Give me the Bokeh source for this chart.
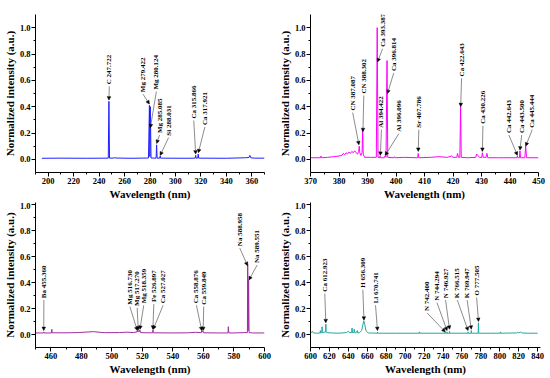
import math
from bokeh.plotting import figure
from bokeh.layouts import column, row
from bokeh.models import (ColumnDataSource, LabelSet, Arrow, NormalHead, Range1d,
                          FixedTicker, PrintfTickFormatter)
from bokeh.embed import file_html
from bokeh.resources import INLINE

FONT = "Liberation Serif"
XLABEL = "Wavelength (nm)"
YLABEL = "Normalized intensity (a.u.)"

# ---------------- Panel 1 (blue, 190-370 nm) ----------------
wl1 = [195, 210, 230, 247.2, 247.7, 248.2, 252, 252.3, 252.6, 265, 278.8, 279.55, 279.9,
       280.27, 280.8, 284.8, 285.2, 285.6, 287.7, 288.0, 288.3, 309, 315.5, 315.9, 316.3,
       317.5, 317.9, 318.3, 340, 355, 357.8, 358.5, 359.2, 362, 370]
int1 = [0.008, 0.009, 0.008, 0.009, 0.44, 0.009, 0.01, 0.014, 0.01, 0.008, 0.01, 0.41, 0.02,
        0.40, 0.01, 0.009, 0.11, 0.009, 0.009, 0.025, 0.009, 0.008, 0.009, 0.03, 0.009,
        0.009, 0.04, 0.009, 0.008, 0.012, 0.014, 0.03, 0.012, 0.009, 0.009]
lab1 = ["C 247.722", "Mg 279.422", "Mg 280.124", "Mg 285.085", "Si 288.031",
        "Ca 315.866", "Ca 317.921"]
lx1 = [248.0, 274.5, 285.0, 287.5, 294.6, 314.4, 323.1]
ly1 = [0.57, 0.51, 0.53, 0.20, 0.18, 0.31, 0.26]
tx1 = [247.7, 279.5, 280.3, 285.2, 288.0, 315.9, 318.0]
ty1 = [0.45, 0.42, 0.24, 0.12, 0.03, 0.04, 0.05]

# ---------------- Panel 2 (magenta, 370-450 nm) ----------------
wl2 = [370, 373.5, 373.7, 373.9, 376, 378, 380, 381, 381.5, 382, 382.5, 383, 383.5, 384,
       384.5, 385, 385.5, 386, 386.5, 386.9, 387.1, 387.3, 387.7, 388.1, 388.3, 388.5, 389,
       391, 393.1, 393.4, 393.7, 394.2, 394.4, 394.6, 395.9, 396.1, 396.5, 396.85, 397.1,
       399.3, 399.5, 399.7, 403, 407.6, 407.8, 408, 412, 415, 418, 419.5, 420, 421.3, 421.6,
       421.9, 422.4, 422.67, 422.9, 425, 428, 428.3, 428.9, 429.3, 430.1, 430.3, 430.6,
       431.6, 431.9, 432.2, 436, 442.4, 442.6, 442.8, 443.3, 443.5, 443.7, 445.2, 445.5,
       445.8, 450]
int2 = [0.012, 0.012, 0.025, 0.012, 0.015, 0.02, 0.025, 0.03, 0.045, 0.035, 0.05, 0.04,
        0.055, 0.045, 0.06, 0.05, 0.065, 0.05, 0.04, 0.06, 0.10, 0.05, 0.03, 0.05, 0.22,
        0.04, 0.015, 0.015, 0.015, 1.0, 0.015, 0.012, 0.025, 0.012, 0.012, 0.025, 0.015,
        0.75, 0.015, 0.012, 0.02, 0.012, 0.015, 0.012, 0.045, 0.012, 0.015, 0.02, 0.015,
        0.025, 0.015, 0.015, 0.045, 0.015, 0.015, 0.40, 0.015, 0.012, 0.015, 0.04, 0.025,
        0.015, 0.015, 0.05, 0.015, 0.015, 0.045, 0.012, 0.012, 0.012, 0.025, 0.012, 0.012,
        0.065, 0.012, 0.012, 0.10, 0.012, 0.012]
lab2 = ["CN 387.087", "CN 388.302", "Ca 393.387", "Ca 396.814", "Al 394.422", "Al 396.096",
        "Sr 407.786", "Ca 422.643", "Ca  430.226", "Ca  442.643", "Ca  443.500", "Ca  445.444"]
lx2 = [384.8, 388.7, 395.3, 399.2, 394.9, 401.0, 408.0, 423.0, 430.5, 439.6, 444.1, 447.8]
ly2 = [0.37, 0.50, 0.855, 0.67, 0.24, 0.21, 0.24, 0.63, 0.27, 0.20, 0.20, 0.24]
tx2 = [387.0, 388.4, 393.5, 397.0, 394.5, 396.2, 407.8, 422.7, 430.3, 442.6, 443.5, 445.5]
ty2 = [0.11, 0.21, 0.74, 0.50, 0.03, 0.03, 0.06, 0.40, 0.06, 0.03, 0.07, 0.10]

# ---------------- Panel 3 (purple, 450-600 nm) ----------------
wl3 = [450, 455.2, 455.4, 455.6, 460.5, 460.7, 460.9, 470, 478, 488, 495, 505, 510, 514,
       516.5, 516.7, 517.0, 517.3, 517.8, 518.4, 518.8, 523, 526.7, 526.95, 527.2, 540, 550,
       555, 558.6, 558.9, 559.4, 559.8, 560.2, 570, 576.1, 576.3, 576.5, 576.7, 580, 588.8,
       588.99, 589.3, 589.59, 589.9, 592, 600]
int3 = [0.012, 0.012, 0.02, 0.012, 0.012, 0.04, 0.013, 0.013, 0.015, 0.022, 0.014, 0.015,
        0.018, 0.015, 0.02, 0.03, 0.02, 0.03, 0.02, 0.035, 0.015, 0.013, 0.013, 0.035, 0.013,
        0.012, 0.013, 0.017, 0.014, 0.03, 0.018, 0.025, 0.013, 0.012, 0.012, 0.06, 0.03,
        0.012, 0.012, 0.015, 0.54, 0.03, 0.42, 0.015, 0.012, 0.012]
lab3 = ["Ba 455.360", "Mg 516.730", "Mg 517.270", "Mg 518.359", "Fe 526.897", "Ca  527.027",
        "Ca  558.876", "Ca  559.849", "Na  588.958", "Na  589.551"]
lx3 = [455.5, 511.8, 516.6, 520.9, 527.5, 533.6, 555.4, 560.2, 583.8, 595.2]
ly3 = [0.28, 0.23, 0.22, 0.24, 0.25, 0.24, 0.24, 0.23, 0.68, 0.55]
tx3 = [455.4, 516.7, 517.3, 518.4, 526.9, 527.1, 558.9, 559.8, 588.9, 589.8]
ty3 = [0.03, 0.03, 0.035, 0.04, 0.04, 0.04, 0.03, 0.03, 0.53, 0.42]

# ---------------- Panel 4 (teal, 600-843 nm) ----------------
wl4 = [600, 602, 603, 608, 610.2, 610.4, 610.6, 612, 612.2, 612.5, 616, 616.2, 616.5, 617,
       622, 630, 638, 640, 641, 643.5, 643.9, 644.3, 645.8, 646.2, 646.6, 648, 649.5, 649.8,
       652, 654, 655.5, 656.3, 657.3, 658.5, 661, 670.6, 670.8, 671, 690, 714.8, 715, 715.3,
       742.2, 742.4, 742.6, 744.1, 744.3, 744.5, 746.7, 746.9, 747.1, 766.3, 766.5, 766.7,
       769.7, 769.9, 770.1, 777.2, 777.4, 777.7, 790, 800.5, 800.8, 801.1, 818, 819, 820,
       822, 823, 830, 840]
int4 = [0.01, 0.025, 0.012, 0.01, 0.012, 0.03, 0.012, 0.015, 0.06, 0.015, 0.02, 0.08, 0.02,
        0.015, 0.012, 0.01, 0.015, 0.025, 0.015, 0.015, 0.05, 0.015, 0.015, 0.04, 0.015,
        0.012, 0.03, 0.012, 0.015, 0.03, 0.08, 0.105, 0.08, 0.03, 0.012, 0.01, 0.018, 0.01,
        0.01, 0.01, 0.02, 0.01, 0.01, 0.018, 0.01, 0.01, 0.02, 0.01, 0.01, 0.025, 0.01, 0.01,
        0.02, 0.01, 0.01, 0.03, 0.01, 0.01, 0.09, 0.01, 0.01, 0.01, 0.02, 0.01, 0.012, 0.018,
        0.012, 0.02, 0.012, 0.01, 0.01]
lab4 = ["Ca  612.923", "H  656.309", "Li  670.741", "N  742.400", "N  744.294", "N  746.927",
        "K  766.515", "K  769.947", "O  777.505"]
lx4 = [615.1, 655.3, 668.7, 723.3, 733.6, 742.7, 755.1, 765.5, 775.5]
ly4 = [0.33, 0.36, 0.24, 0.18, 0.26, 0.28, 0.28, 0.28, 0.30]
tx4 = [616.2, 656.5, 670.8, 742.4, 744.3, 746.9, 766.5, 769.9, 777.5]
ty4 = [0.09, 0.11, 0.03, 0.02, 0.03, 0.04, 0.03, 0.04, 0.10]

Y_TICKS = [0.0, 0.2, 0.4, 0.6, 0.8, 1.0]
Y_MINOR = [0.1, 0.3, 0.5, 0.7, 0.9]


def style_axis(ax):
    ax.axis_line_color = "black"
    ax.axis_line_width = 1
    ax.major_tick_line_color = "black"
    ax.minor_tick_line_color = "black"
    ax.major_tick_out = 4
    ax.major_tick_in = 0
    ax.minor_tick_out = 2
    ax.minor_tick_in = 0
    ax.major_label_standoff = 1
    ax.axis_label_standoff = 1
    ax.major_label_text_font = FONT
    ax.major_label_text_font_style = "bold"
    ax.major_label_text_font_size = "8.5px"
    ax.major_label_text_color = "black"
    ax.axis_label_text_font = FONT
    ax.axis_label_text_font_style = "bold"
    ax.axis_label_text_font_size = "11px"
    ax.axis_label_text_color = "black"


def panel(wl, inten, color, xr, yr, xticks, xminor, labs, lx, ly, tx, ty,
          width, height, mbl, mbr, mbt, mbb):
    p = figure(width=width, height=height, x_range=Range1d(*xr), y_range=Range1d(*yr),
               output_backend="svg", toolbar_location=None,
               min_border_left=mbl, min_border_right=mbr,
               min_border_top=mbt, min_border_bottom=mbb)
    p.outline_line_color = None
    p.grid.visible = False
    p.background_fill_color = "white"
    p.border_fill_color = "white"
    p.line(wl, inten, line_color=color, line_width=1)

    src = ColumnDataSource(dict(
        text=labs, x=lx, y=ly,
        x0=lx, y0=[v - 0.015 for v in ly], x1=tx, y1=ty))
    p.add_layout(Arrow(end=NormalHead(size=3.5, fill_color="black", line_color="black",
                                      line_width=0.5),
                       x_start="x0", y_start="y0", x_end="x1", y_end="y1",
                       source=src, line_color="#6f6f6f", line_width=0.8))
    p.add_layout(LabelSet(x="x", y="y", text="text", source=src, angle=math.pi / 2,
                          text_align="left", text_baseline="middle",
                          text_font=FONT, text_font_style="bold",
                          text_font_size="7px", text_color="black"))

    p.xaxis.ticker = FixedTicker(ticks=xticks, minor_ticks=xminor)
    p.yaxis.ticker = FixedTicker(ticks=Y_TICKS, minor_ticks=Y_MINOR)
    p.yaxis.formatter = PrintfTickFormatter(format="%.1f")
    p.xaxis.axis_label = XLABEL
    p.yaxis.axis_label = YLABEL
    style_axis(p.xaxis[0])
    style_axis(p.yaxis[0])
    return p


TOP_Y = (-0.1, 1.1)
BOT_Y = (-0.1, 1.016)

p1 = panel(wl1, int1, "#1f1fff", (190, 370), TOP_Y,
           list(range(200, 361, 20)), list(range(190, 371, 20)),
           lab1, lx1, ly1, tx1, ty1, 272, 202, 35, 8, 14, 30)
p2 = panel(wl2, int2, "#ff00ff", (370, 450), TOP_Y,
           list(range(370, 451, 10)), [375 + 10 * i for i in range(8)],
           lab2, lx2, ly2, tx2, ty2, 277, 202, 38, 11, 14, 30)
p3 = panel(wl3, int3, "#a02da0", (450, 600), BOT_Y,
           list(range(460, 601, 20)), list(range(450, 601, 20)),
           lab3, lx3, ly3, tx3, ty3, 272, 175, 35, 8, 0, 28)
p4 = panel(wl4, int4, "#22a8a0", (600, 843), BOT_Y,
           list(range(600, 841, 20)), list(range(610, 841, 20)),
           lab4, lx4, ly4, tx4, ty4, 277, 175, 38, 9, 0, 28)

layout = column(row(p1, p2), row(p3, p4))
open("out.html", "w").write(file_html(layout, INLINE))
